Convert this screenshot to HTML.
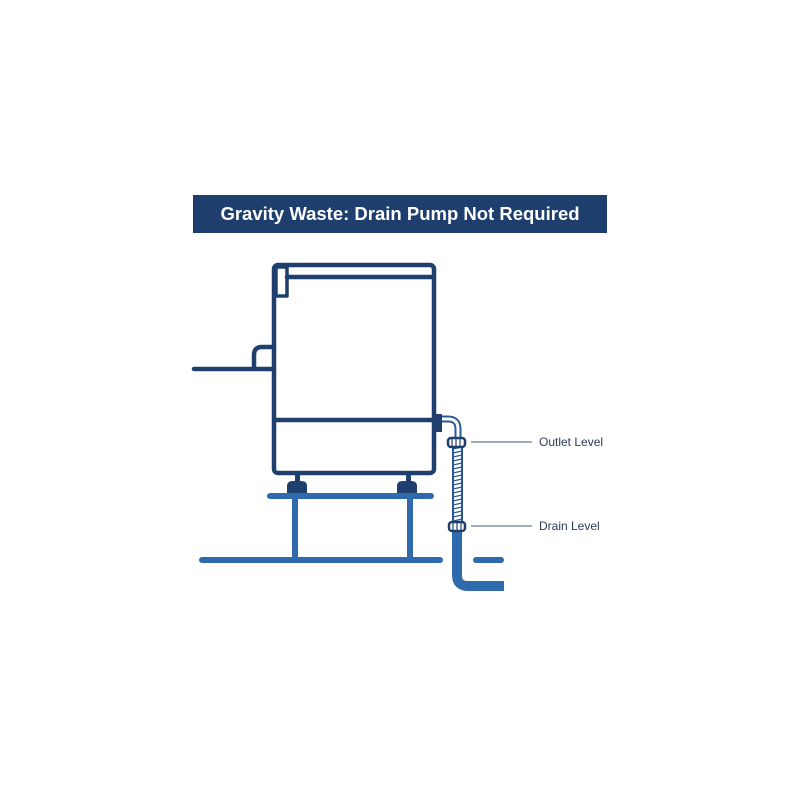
<!DOCTYPE html>
<html><head><style>
body{margin:0;width:800px;height:800px;background:#fff;overflow:hidden;font-family:"Liberation Sans",sans-serif}
</style></head><body>
<svg width="800" height="800" viewBox="0 0 800 800" xmlns="http://www.w3.org/2000/svg">
<rect x="193" y="195" width="414" height="38" fill="#1e3f6d"/>
<text x="400" y="220" font-family="Liberation Sans,sans-serif" font-size="18.5" font-weight="bold" fill="#fff" text-anchor="middle">Gravity Waste: Drain Pump Not Required</text>
<g stroke="#1f3f6e" stroke-width="4.5" fill="none" stroke-linecap="round" stroke-linejoin="round">
<rect x="274" y="265" width="160" height="208" rx="4"/>
<line x1="287" y1="277" x2="433" y2="277"/>
<rect x="276" y="267" width="11" height="29" stroke-width="3.5"/>
<line x1="275" y1="420" x2="433" y2="420"/>
<path d="M194 369 H274 M254 369 V355 Q254 347 262 347 H274"/>
</g>
<g fill="#1f3f6e">
<rect x="295" y="474" width="5" height="8"/>
<rect x="406" y="474" width="5" height="8"/>
<path d="M287 493 V486 Q287 481 293 481 H301 Q307 481 307 486 V493 Z"/>
<path d="M397 493 V486 Q397 481 403 481 H411 Q417 481 417 486 V493 Z"/>
<rect x="436" y="414" width="6" height="18"/>
</g>
<g stroke="#2e6aac" stroke-linecap="round" fill="none">
<line x1="270" y1="496" x2="431" y2="496" stroke-width="6"/>
<line x1="295" y1="496" x2="295" y2="558" stroke-width="6"/>
<line x1="410" y1="496" x2="410" y2="558" stroke-width="6"/>
<line x1="202" y1="560" x2="440" y2="560" stroke-width="6"/>
<line x1="476" y1="560" x2="501" y2="560" stroke-width="6"/>
<path d="M457 530 V575 Q457 586 468 586 H504" stroke-width="10" stroke-linecap="butt"/>
</g>
<g stroke="#2a5a95" fill="none">
<path d="M442 419 H448 Q458 419 458 429 V440" stroke-width="7"/>
<path d="M442 419 H448 Q458 419 458 429 V440" stroke="#fff" stroke-width="3"/>
<rect x="453" y="446" width="9" height="77" stroke-width="2" fill="#fff"/>
</g>
<g stroke="#2a5a95" stroke-width="1.3">
<path d="M453 449 l9 -2 M453 453 l9 -2 M453 457 l9 -2 M453 461 l9 -2 M453 465 l9 -2 M453 469 l9 -2 M453 473 l9 -2 M453 477 l9 -2 M453 481 l9 -2 M453 485 l9 -2 M453 489 l9 -2 M453 493 l9 -2 M453 497 l9 -2 M453 501 l9 -2 M453 505 l9 -2 M453 509 l9 -2 M453 513 l9 -2 M453 517 l9 -2 M453 521 l9 -2"/>
</g>
<g fill="#fff" stroke="#1f3f6e" stroke-width="2.5">
<rect x="448" y="438" width="17" height="9" rx="3"/>
<rect x="449" y="522" width="16" height="9" rx="3"/>
</g>
<g stroke="#1f3f6e" stroke-width="1.2">
<path d="M452 439 v7 M456 439 v7 M460 439 v7 M453 523 v7 M457 523 v7 M461 523 v7"/>
</g>
<g stroke="#6c7a8c" stroke-width="1.3">
<line x1="471" y1="442" x2="532" y2="442"/>
<line x1="471" y1="526" x2="532" y2="526"/>
</g>
<g font-family="Liberation Sans,sans-serif" font-size="12" fill="#2b3a55">
<text x="539" y="446">Outlet Level</text>
<text x="539" y="530">Drain Level</text>
</g>
</svg>
</body></html>
